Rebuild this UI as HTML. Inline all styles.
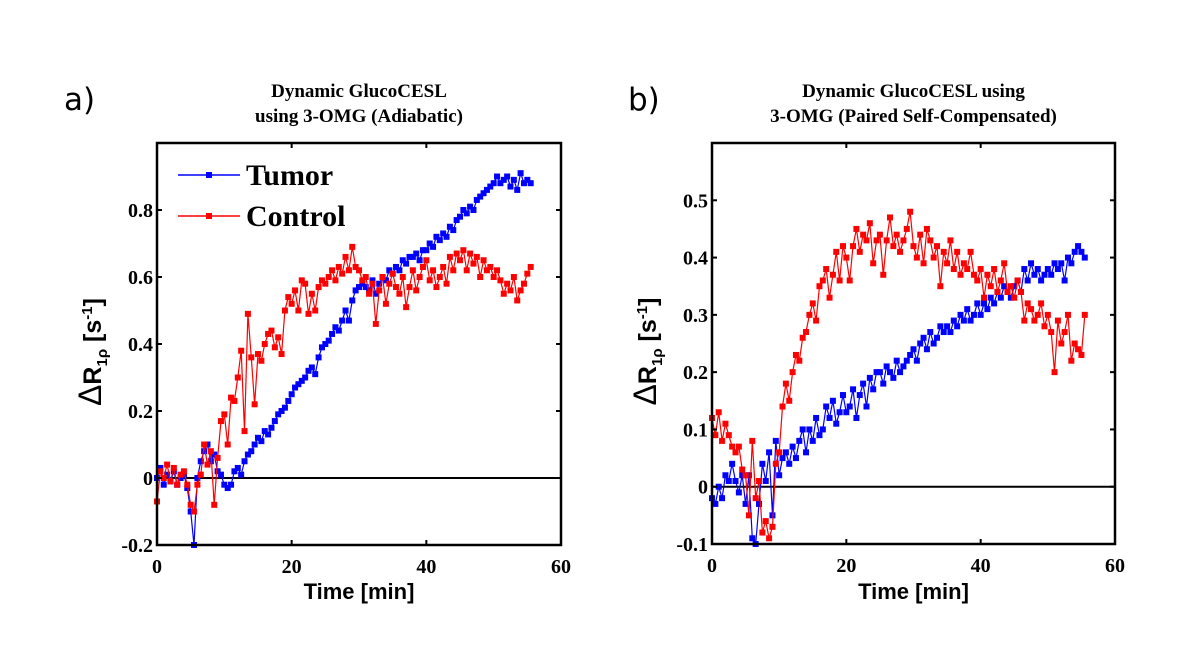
<!DOCTYPE html>
<html><head><meta charset="utf-8">
<style>
body{margin:0;background:#fff;}
svg{display:block;}
.tt{font-family:"Liberation Serif",serif;font-weight:bold;font-size:19px;text-anchor:middle;}
.tk{font-family:"Liberation Serif",serif;font-weight:bold;font-size:20px;}
.xl{font-family:"Liberation Sans",sans-serif;font-weight:bold;font-size:22px;text-anchor:middle;}
.pl{font-family:"DejaVu Sans","Liberation Sans",sans-serif;font-size:31px;}
.yl{font-family:"Liberation Sans",sans-serif;font-weight:bold;font-size:25px;}
</style></head>
<body>
<svg id="fig" width="1202" height="659" viewBox="0 0 1202 659">
<rect width="1202" height="659" fill="#fff"/>
</svg>
<script>
const xTicks=[0,20,40,60];
const aYTicks=[-0.2,0,0.2,0.4,0.6,0.8];
const aYLabels=["-0.2","0","0.2","0.4","0.6","0.8"];
const bYTicks=[-0.1,0,0.1,0.2,0.3,0.4,0.5];
const bYLabels=["-0.1","0","0.1","0.2","0.3","0.4","0.5"];
const timeStep=0.5;
const aTumor=[0.0,0.03,-0.02,0.01,-0.01,0.02,-0.02,0.0,0.01,-0.03,
-0.1,-0.2,0.0,0.05,0.08,0.1,0.05,0.07,0.02,0.01,
-0.02,-0.03,-0.02,0.02,0.03,0.01,0.05,0.07,0.08,0.1,
0.12,0.11,0.14,0.13,0.15,0.17,0.19,0.2,0.21,0.23,
0.25,0.27,0.28,0.29,0.3,0.32,0.33,0.31,0.36,0.39,
0.4,0.41,0.43,0.45,0.44,0.47,0.5,0.47,0.53,0.56,
0.57,0.58,0.57,0.56,0.59,0.55,0.58,0.6,0.59,0.62,
0.61,0.63,0.62,0.65,0.64,0.66,0.66,0.67,0.65,0.68,
0.68,0.7,0.69,0.72,0.71,0.73,0.72,0.75,0.74,0.77,
0.78,0.8,0.79,0.81,0.8,0.83,0.84,0.85,0.86,0.87,
0.88,0.9,0.88,0.89,0.9,0.87,0.89,0.86,0.91,0.88,
0.89,0.88];
const aControl=[-0.07,0.02,0.0,0.04,-0.01,0.03,-0.02,0.01,0.02,-0.02,
-0.08,-0.1,-0.02,0.01,0.1,0.04,0.08,-0.08,0.06,0.17,
0.19,0.1,0.24,0.23,0.3,0.38,0.14,0.49,0.36,0.22,
0.37,0.35,0.4,0.43,0.44,0.39,0.42,0.37,0.5,0.54,
0.52,0.56,0.5,0.59,0.58,0.49,0.55,0.5,0.57,0.59,
0.58,0.6,0.62,0.59,0.63,0.61,0.66,0.62,0.69,0.63,
0.62,0.59,0.6,0.55,0.58,0.46,0.56,0.6,0.52,0.58,
0.61,0.57,0.55,0.6,0.51,0.57,0.62,0.56,0.6,0.63,
0.65,0.59,0.62,0.57,0.6,0.63,0.58,0.66,0.62,0.67,
0.65,0.68,0.62,0.67,0.64,0.66,0.6,0.65,0.62,0.63,
0.6,0.62,0.59,0.55,0.58,0.56,0.6,0.53,0.56,0.58,
0.61,0.63];
const bTumor=[-0.02,-0.03,0.0,-0.02,0.02,0.01,0.04,0.01,-0.01,0.02,
-0.03,0.02,-0.09,-0.1,-0.03,0.04,0.01,0.06,-0.05,0.08,
0.02,0.05,0.06,0.04,0.07,0.05,0.08,0.1,0.06,0.1,
0.08,0.12,0.09,0.1,0.14,0.12,0.15,0.11,0.13,0.16,
0.13,0.14,0.17,0.12,0.16,0.18,0.14,0.19,0.17,0.2,
0.2,0.18,0.21,0.2,0.19,0.22,0.2,0.21,0.22,0.23,
0.24,0.22,0.25,0.26,0.24,0.27,0.25,0.26,0.28,0.27,
0.28,0.27,0.29,0.28,0.3,0.29,0.31,0.29,0.3,0.32,
0.3,0.32,0.31,0.33,0.32,0.34,0.33,0.35,0.34,0.33,
0.35,0.36,0.34,0.38,0.36,0.39,0.37,0.38,0.36,0.37,
0.38,0.37,0.39,0.38,0.39,0.36,0.4,0.39,0.41,0.42,
0.41,0.4];
const bControl=[0.12,0.09,0.13,0.08,0.11,0.09,0.07,0.06,0.07,0.03,
0.02,-0.05,0.08,-0.02,0.01,-0.08,-0.06,-0.09,-0.07,0.04,
0.06,0.14,0.18,0.15,0.2,0.23,0.22,0.26,0.27,0.3,
0.32,0.29,0.35,0.36,0.38,0.33,0.37,0.41,0.36,0.42,
0.4,0.36,0.42,0.45,0.41,0.44,0.43,0.46,0.39,0.43,
0.44,0.37,0.43,0.47,0.42,0.44,0.41,0.43,0.45,0.48,
0.42,0.4,0.44,0.39,0.45,0.43,0.4,0.42,0.35,0.41,
0.39,0.43,0.38,0.41,0.37,0.39,0.38,0.41,0.37,0.36,
0.38,0.33,0.37,0.35,0.38,0.34,0.36,0.39,0.34,0.35,
0.33,0.36,0.34,0.29,0.32,0.31,0.29,0.3,0.32,0.28,
0.3,0.27,0.2,0.29,0.25,0.27,0.3,0.22,0.25,0.24,
0.23,0.3];

const NS="http://www.w3.org/2000/svg";
const svg=document.getElementById('fig');
function mk(tag,attrs,parent){const e=document.createElementNS(NS,tag);for(const k in attrs)e.setAttribute(k,attrs[k]);(parent||svg).appendChild(e);return e;}

function panel(id,box,ymin,ymax,yT,yL,series,letter,lx,t1,t2){
  const g=mk('g',{});
  
  
  const X=v=>box.x0+(v-0)/60*(box.x1-box.x0);
  const Y=v=>box.y1-(v-ymin)/(ymax-ymin)*(box.y1-box.y0);
  const cx=(box.x0+box.x1)/2;
  const lab=mk('text',{x:lx,y:110,class:'pl'},g);lab.textContent=letter;
  
  
  const ta=mk('text',{x:cx,y:97,class:'tt'},g);ta.textContent=t1;
  
  
  const tb=mk('text',{x:cx,y:122,class:'tt'},g);tb.textContent=t2;
  
  
  const zl=mk('line',{x1:box.x0,x2:box.x1,y1:Y(0),y2:Y(0),stroke:'#000','stroke-width':2},g);
  
  
  series.forEach(s=>{
    const sg=mk('g',{},g);
    
    
    const pts=s.data.map((v,i)=>X(i*timeStep).toFixed(1)+','+Y(v).toFixed(1)).join(' ');
    mk('polyline',{points:pts,fill:'none',stroke:s.color,'stroke-width':1.2},sg);
    s.data.forEach((v,i)=>{
      const r=mk('rect',{x:X(i*timeStep)-3,y:Y(v)-3,width:6,height:6,fill:s.color},sg);
      
      
    });
  });
  const bx=mk('rect',{x:box.x0,y:box.y0,width:box.x1-box.x0,height:box.y1-box.y0,fill:'none',stroke:'#000','stroke-width':2.5},g);
  
  
  xTicks.forEach(t=>{
    mk('line',{x1:X(t),x2:X(t),y1:box.y1,y2:box.y1-5,stroke:'#000','stroke-width':2},g);
    mk('line',{x1:X(t),x2:X(t),y1:box.y0,y2:box.y0+5,stroke:'#000','stroke-width':2},g);
    const tl=mk('text',{x:X(t),y:box.y1+28,class:'tk','text-anchor':'middle'},g);tl.textContent=t;
    
    
  });
  yT.forEach((t,i)=>{
    mk('line',{x1:box.x0,x2:box.x0+5,y1:Y(t),y2:Y(t),stroke:'#000','stroke-width':2},g);
    mk('line',{x1:box.x1,x2:box.x1-5,y1:Y(t),y2:Y(t),stroke:'#000','stroke-width':2},g);
    const tl=mk('text',{x:box.x0-4,y:Y(t)+7,class:'tk','text-anchor':'end'},g);tl.textContent=yL[i];
    
    
  });
  const xl=mk('text',{x:cx,y:599,class:'xl'},g);xl.textContent='Time [min]';
  
  
  const yl=mk('text',{x:0,y:0,class:'yl','text-anchor':'middle',transform:`translate(${box.x0-56},${(box.y0+box.y1)/2+8}) rotate(-90)`},g);
  
  
  yl.innerHTML='<tspan font-size="32" font-weight="normal">Δ</tspan>R<tspan font-size="15" dy="6">1ρ</tspan><tspan dy="-6"> [s</tspan><tspan font-size="15" dy="-9">-1</tspan><tspan dy="9">]</tspan>';
  return g;
}
panel('panel-a',{x0:157,x1:561,y0:143,y1:545},-0.2,1.0,aYTicks,aYLabels,
  [{name:'tumor-series',data:aTumor,color:'#0000ff'},{name:'control-series',data:aControl,color:'#ff0000'}],
  'a)',64,'Dynamic GlucoCESL','using 3-OMG (Adiabatic)');
panel('panel-b',{x0:712,x1:1115,y0:143,y1:544},-0.1,0.6,bYTicks,bYLabels,
  [{name:'tumor-series',data:bTumor,color:'#0000ff'},{name:'control-series',data:bControl,color:'#ff0000'}],
  'b)',628,'Dynamic GlucoCESL using','3-OMG (Paired Self-Compensated)');
const lg=mk('g',{});


[['Tumor','#0000ff',175],['Control','#ff0000',216]].forEach(([n,c,y])=>{
  const e=mk('g',{},lg);
  
  
  mk('line',{x1:178,x2:240,y1:y,y2:y,stroke:c,'stroke-width':1.5},e);
  mk('rect',{x:206,y:y-3,width:6,height:6,fill:c},e);
  const t=mk('text',{x:246,y:y+10,'font-family':'Liberation Serif, serif','font-weight':'bold','font-size':'30px'},e);
  t.textContent=n;
});
</script>
</body></html>
